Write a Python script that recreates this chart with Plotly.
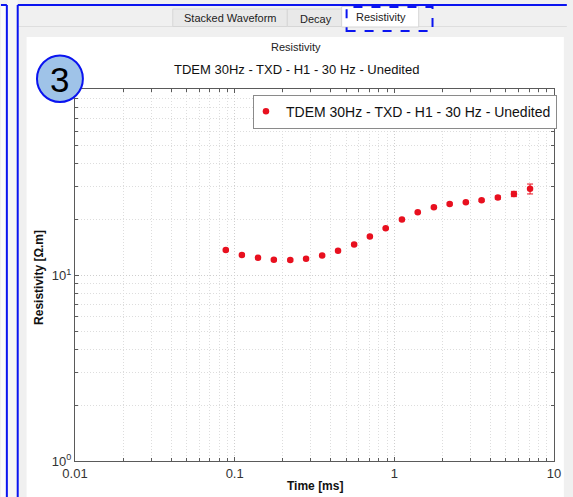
import plotly.graph_objects as go

# ---------------- data ----------------
time_ms = [0.088, 0.111, 0.140, 0.176, 0.223, 0.280, 0.353, 0.444, 0.560, 0.703,
           0.883, 1.116, 1.402, 1.769, 2.222, 2.805, 3.52, 4.45, 5.61, 7.08]
resistivity = [13.7, 12.9, 12.45, 12.15, 12.1, 12.3, 12.8, 13.6, 14.7, 16.2,
               17.95, 20.0, 21.9, 23.3, 24.3, 24.8, 25.4, 26.3, 27.5, 29.3]
res_err = [0.15, 0.15, 0.15, 0.15, 0.15, 0.15, 0.15, 0.15, 0.2, 0.2,
           0.2, 0.25, 0.25, 0.3, 0.3, 0.3, 0.35, 0.5, 0.9, 1.8]

series_name = "TDEM 30Hz - TXD - H1 - 30 Hz - Unedited"
chart_title = "Resistivity"
tab_labels = ["Stacked Waveform", "Decay", "Resistivity"]
x_tick_vals = [0.01, 0.1, 1, 10]
x_tick_text = ["0.01", "0.1", "1", "10"]
y_tick_vals = [1, 10]
y_tick_text = ["10<sup>0</sup>", "10<sup>1</sup>"]

# ---------------- geometry ----------------
W, H = 573, 497
L, R, T, B = 75, 13, 89, 36
PW, PH = W - L - R, H - T - B


def X(px):
    return (px - L) / PW


def Y(py):
    return (H - B - py) / PH


FONT = "Liberation Sans, Arial, sans-serif"
BLUE = "#0a14f0"
RED = "#e8101f"
DOTS = "1px,2px"

fig = go.Figure()
fig.add_trace(go.Scatter(
    x=time_ms, y=resistivity, mode="markers", name=series_name,
    marker=dict(color=RED, size=6.5),
    error_y=dict(type="data", array=res_err, color=RED, thickness=1, width=3),
))

minor_x = [m * 10 ** e for e in (-2, -1, 0) for m in range(2, 10)]
minor_y = [m * 10 ** e for e in (0, 1) for m in range(2, 10)] + [100]

axis_common = dict(
    showline=True, linecolor="#5a5a5a", linewidth=1, mirror="ticks",
    ticks="inside", ticklen=4, tickcolor="#5a5a5a",
    showgrid=True, gridcolor="#cfcfcf", griddash=DOTS, gridwidth=1,
    zeroline=False,
    tickfont=dict(family=FONT, size=13, color="#333333"),
)

fig.update_xaxes(
    type="log", range=[-2, 1], tickvals=x_tick_vals, ticktext=x_tick_text,
    minor=dict(tickvals=minor_x, ticks="inside", ticklen=3, tickcolor="#5a5a5a",
               showgrid=True, gridcolor="#dddddd", griddash=DOTS),
    **axis_common,
)
fig.update_yaxes(
    type="log", range=[0, 2.005], tickvals=y_tick_vals, ticktext=y_tick_text,
    minor=dict(tickvals=minor_y, ticks="inside", ticklen=3, tickcolor="#5a5a5a",
               showgrid=True, gridcolor="#dddddd", griddash=DOTS),
    **axis_common,
)

P = dict(xref="paper", yref="paper")
NOLINE = dict(width=0)
shapes = []
# left outer frames
shapes.append(dict(type="rect", x0=X(0), x1=X(6), y0=Y(H), y1=Y(5), fillcolor="#fbfbfb", line=NOLINE, layer="below", **P))
shapes.append(dict(type="rect", x0=X(7), x1=X(17), y0=Y(H), y1=Y(0), fillcolor="#f6f6f6", line=NOLINE, layer="below", **P))
shapes.append(dict(type="line", x0=X(0), x1=X(6), y0=Y(5), y1=Y(5), line=dict(color=BLUE, width=2), **P))
shapes.append(dict(type="line", x0=X(6), x1=X(6), y0=Y(5), y1=Y(H), line=dict(color=BLUE, width=2), **P))
shapes.append(dict(type="line", x0=X(17), x1=X(17), y0=Y(5), y1=Y(H), line=dict(color=BLUE, width=2), **P))
shapes.append(dict(type="line", x0=X(17), x1=X(W), y0=Y(5), y1=Y(5), line=dict(color=BLUE, width=2), **P))
# tab bar separator
shapes.append(dict(type="line", x0=X(18), x1=X(W), y0=Y(26.5), y1=Y(26.5), line=dict(color="#dedede", width=1), layer="below", **P))
# white chart panel
shapes.append(dict(type="rect", x0=X(26), x1=X(570), y0=Y(H), y1=Y(37), fillcolor="white", line=NOLINE, layer="below", **P))
# tabs
shapes.append(dict(type="rect", x0=X(174), x1=X(290), y0=Y(26.5), y1=Y(9), fillcolor="#e9e9e9", line=dict(color="#d6d6d6", width=1), layer="below", **P))
shapes.append(dict(type="rect", x0=X(290), x1=X(345), y0=Y(26.5), y1=Y(9), fillcolor="#e9e9e9", line=dict(color="#d6d6d6", width=1), layer="below", **P))
shapes.append(dict(type="rect", x0=X(345), x1=X(423), y0=Y(27), y1=Y(6.5), fillcolor="#ffffff", line=dict(color="#d6d6d6", width=1), layer="below", **P))
shapes.append(dict(type="rect", x0=X(350), x1=X(437), y0=Y(31), y1=Y(7), fillcolor="rgba(0,0,0,0)", line=dict(color=BLUE, width=2, dash="dash"), **P))
# numbered circle
shapes.append(dict(type="circle", x0=X(36.5), x1=X(83), y0=Y(102), y1=Y(55.5), fillcolor="#9fc3e8", line=dict(color=BLUE, width=2), **P))


def txt(x, y, s, size, color="#222222", angle=0):
    return dict(x=X(x), y=Y(y), text=s, showarrow=False, xref="paper", yref="paper",
                textangle=angle, font=dict(family=FONT, size=size, color=color),
                xanchor="center", yanchor="middle")


annotations = [
    txt(232, 18, tab_labels[0], 11),
    txt(319, 18.5, tab_labels[1], 11),
    txt(385, 16.5, tab_labels[2], 11),
    txt(299, 47, chart_title, 11),
    txt(299, 69, series_name, 13, "#111111"),
    txt(59.5, 79, "3", 35, "#000000"),
    txt(317.5, 486, "<b>Time [ms]</b>", 12, "#111111"),
    txt(38.5, 277, "<b>Resistivity [Ω.m]</b>", 12, "#111111", -90),
]

fig.update_layout(
    width=W, height=H, autosize=False,
    margin=dict(l=L, r=R, t=T, b=B, pad=0),
    paper_bgcolor="#f0f0f0", plot_bgcolor="white",
    shapes=shapes, annotations=annotations,
    showlegend=True,
    legend=dict(x=X(563), y=Y(94.7), xanchor="right", yanchor="top",
                bgcolor="white", bordercolor="#8a8a8a", borderwidth=1,
                font=dict(family=FONT, size=14, color="#111111"),
                itemwidth=30, tracegroupgap=0, indentation=-8),
    font=dict(family=FONT),
)

fig.write_html("out.html", config={"displayModeBar": False},
               post_script="document.body.style.margin='0px';document.body.style.overflow='hidden';")
